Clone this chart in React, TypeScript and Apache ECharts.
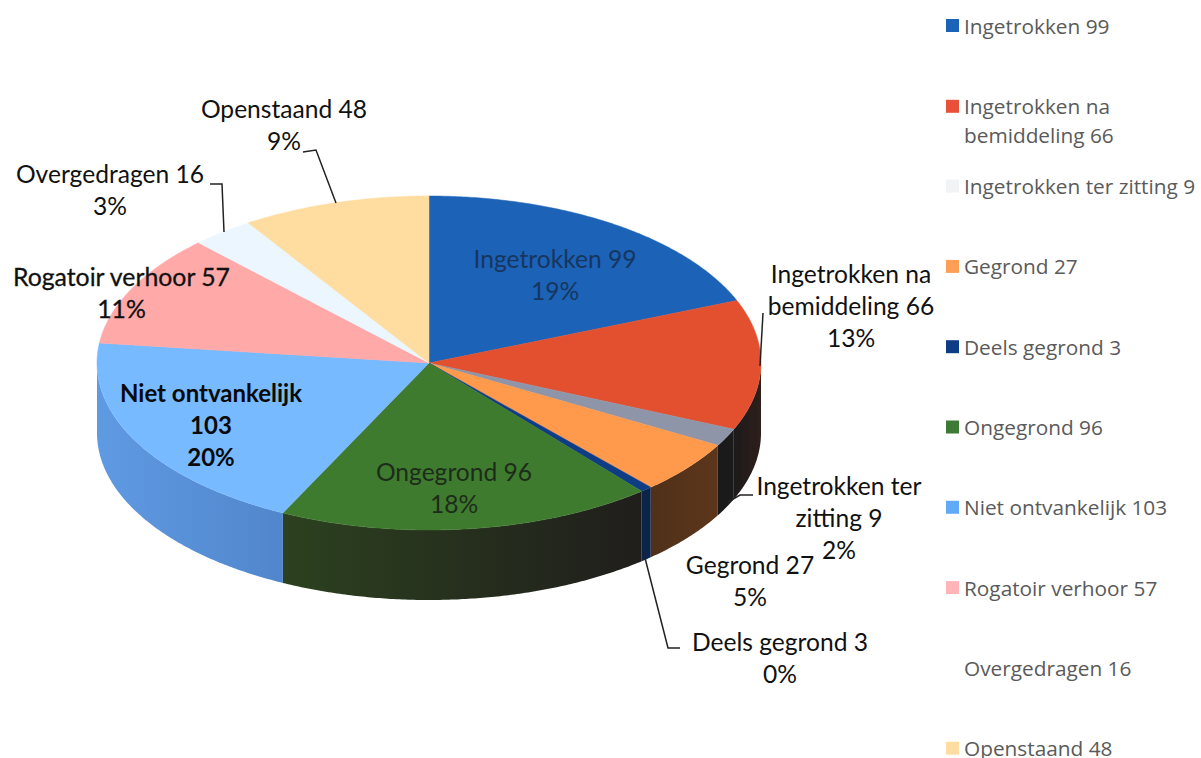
import React, { useEffect, useRef } from "react";
import * as echarts from "echarts";

// ---- data ----
const categories = [
  "Ingetrokken",
  "Ingetrokken na bemiddeling",
  "Ingetrokken ter zitting",
  "Gegrond",
  "Deels gegrond",
  "Ongegrond",
  "Niet ontvankelijk",
  "Rogatoir verhoor",
  "Overgedragen",
  "Openstaand",
];
const counts = [99, 66, 9, 27, 3, 96, 103, 57, 16, 48];
const percentLabels = ["19%", "13%", "2%", "5%", "0%", "18%", "20%", "11%", "3%", "9%"];

// ---- styling ----
const topColors = ["#1c62b6", "#e2502f", "#8e95a9", "#ff9a4c", "#0e3d86", "#3f7b2f", "#78baff", "#ffa9a8", "#ebf6ff", "#ffdc9f"];
const legendColors = ["#1c62b6", "#e8503a", "#f1f3f5", "#ff9f55", "#0e3d86", "#3c7a35", "#62aaf8", "#ffb4b8", "#ffffff", "#ffdc9f"];
const sideColors: [string, string][] = [
  ["#1c62b6", "#1c62b6"],
  ["#1c1a1a", "#2e1f1a"],
  ["#1a1a1a", "#1c1a1a"],
  ["#50301a", "#5c361b"],
  ["#0c2448", "#0c2448"],
  ["#2c411f", "#201e1c"],
  ["#5f9ae2", "#5186cc"],
  ["#ffa9a8", "#ffa9a8"],
  ["#ebf6ff", "#ebf6ff"],
  ["#ffdc9f", "#ffdc9f"],
];

// ---- layout ----
const W = 1201;
const H = 758;
const CX = 429;
const CY = 363;
const RX = 332;
const RY = 167;
const DEPTH = 70;
const LABEL_FONT = "Lato";
const LEGEND_FONT = "Open Sans";

const pt = (deg: number, dy = 0): [number, number] => {
  const a = (deg * Math.PI) / 180;
  return [CX + RX * Math.sin(a), CY - RY * Math.cos(a) + dy];
};
const arc = (from: number, to: number, dy = 0) => {
  const out: [number, number][] = [];
  const n = Math.max(2, Math.ceil(Math.abs(to - from) * 2));
  for (let i = 0; i <= n; i++) out.push(pt(from + ((to - from) * i) / n, dy));
  return out;
};

const total = counts.reduce((a, b) => a + b, 0);
const startOf = (i: number) => (counts.slice(0, i).reduce((a, b) => a + b, 0) / total) * 360;

const labelLines = [
  `Ingetrokken ${counts[0]}`,
  `Ingetrokken na\nbemiddeling ${counts[1]}`,
  `Ingetrokken ter\nzitting ${counts[2]}`,
  `Gegrond ${counts[3]}`,
  `Deels gegrond ${counts[4]}`,
  `Ongegrond ${counts[5]}`,
  `Niet ontvankelijk\n${counts[6]}`,
  `Rogatoir verhoor ${counts[7]}`,
  `Overgedragen ${counts[8]}`,
  `Openstaand ${counts[9]}`,
];
const labelLayout = [
  { x: 555, y: 258, fill: "#17365f", weight: 400, size: 24.6, stroke: 0 },
  { x: 851, y: 273, fill: "#111", weight: 400, size: 24.6, stroke: 0 },
  { x: 839, y: 485, fill: "#111", weight: 400, size: 24.6, stroke: 0 },
  { x: 750, y: 564, fill: "#111", weight: 400, size: 24.6, stroke: 0 },
  { x: 780, y: 641, fill: "#111", weight: 400, size: 24.6, stroke: 0 },
  { x: 454, y: 471, fill: "#1d2c1a", weight: 400, size: 24.6, stroke: 0 },
  { x: 211, y: 392, fill: "#0a0a0a", weight: 700, size: 24, stroke: 0 },
  { x: 121.5, y: 276, fill: "#111", weight: 400, size: 24.8, stroke: 0.3 },
  { x: 110, y: 173, fill: "#111", weight: 400, size: 24.6, stroke: 0 },
  { x: 284, y: 108, fill: "#111", weight: 400, size: 24.6, stroke: 0 },
];
const leaderLines: [number, number][][] = [
  [[763, 313], [760, 366]],
  [[753, 495], [740, 495], [728, 502]],
  [[645, 558], [668, 648], [680, 648]],
  [[210, 184], [222, 184], [224, 232]],
  [[303, 152], [316, 150], [336, 203]],
];

const legendRowY = (i: number) => 26 + i * 80.3;
const LEGEND_LINE = 29;
const LEGEND_SIZE = 20.8;
const LEGEND_SINGLE_LINE = 18;
const LEGEND_NUDGE = 2;

const renderSlice = (params: any, api: any) => {
  const i = params.seriesIndex;
  const from = startOf(i);
  const to = from + (api.value(0) / total) * 360;
  const children: any[] = [];
  const sFrom = Math.max(from, 90);
  const sTo = Math.min(to, 270);
  if (sTo > sFrom) {
    const upper = arc(sFrom, sTo);
    const lower = arc(sTo, sFrom, DEPTH);
    children.push({
      type: "polygon",
      z2: 1,
      shape: { points: [...upper, ...lower] },
      style: {
        fill: new echarts.graphic.LinearGradient(0, 0, 1, 0, [
          { offset: 0, color: sideColors[i][0] },
          { offset: 1, color: sideColors[i][1] },
        ]),
        stroke: "none",
      },
    });
  }
  children.push({
    type: "polygon",
    z2: 2,
    shape: { points: [[CX, CY], ...arc(from, to)] },
    style: { fill: topColors[i], stroke: topColors[i], lineWidth: 0.5 },
  });
  return { type: "group", children };
};

const legendName = (i: number) => `${categories[i]} ${counts[i]}`;

export default function App() {
  const ref = useRef<HTMLDivElement>(null);
  useEffect(() => {
    document.body.style.margin = "0";
    document.body.style.overflow = "hidden";
    const chart = echarts.init(ref.current!, undefined, { renderer: "svg" });
    chart.setOption({
      animation: false,
      backgroundColor: "#ffffff",
      legend: categories.map((_, i) => {
        const twoLines = i === 1;
        return {
          data: [legendName(i)],
          orient: "vertical",
          left: 946,
          top: legendRowY(i) - (twoLines ? 1.5 * LEGEND_LINE : LEGEND_SINGLE_LINE / 2 + LEGEND_NUDGE),
          padding: 0,
          icon: "rect",
          itemWidth: 13,
          itemHeight: 13,
          itemStyle: { color: legendColors[i] },
          selectedMode: false,
          textStyle: {
            color: "#5a5a5a",
            fontFamily: LEGEND_FONT,
            fontSize: LEGEND_SIZE,
            lineHeight: twoLines ? LEGEND_LINE : LEGEND_SINGLE_LINE,
          },
          formatter: twoLines
            ? () => `\n${categories[i].replace(" bemiddeling", "\nbemiddeling")} ${counts[i]}`
            : undefined,
        };
      }),
      series: categories.map((_, i) => ({
        type: "custom",
        name: legendName(i),
        coordinateSystem: "none",
        itemStyle: { color: topColors[i] },
        data: [[counts[i]]],
        renderItem: renderSlice,
        silent: true,
      })),
      graphic: [
        ...leaderLines.map((points) => ({
          type: "polyline",
          z: 5,
          silent: true,
          shape: { points },
          style: { stroke: "#222", lineWidth: 1.5, fill: "none" },
        })),
        ...labelLayout.map((l, i) => ({
          type: "text",
          z: 6,
          silent: true,
          style: {
            text: `${labelLines[i]}\n${percentLabels[i]}`,
            x: l.x,
            y: l.y - 16,
            align: "center",
            verticalAlign: "top",
            lineHeight: 32,
            fontFamily: LABEL_FONT,
            fontSize: l.size,
            fontWeight: l.weight,
            fill: l.fill,
            stroke: l.stroke ? l.fill : "none",
            lineWidth: l.stroke,
          },
        })),
      ],
    });
    return () => chart.dispose();
  }, []);
  return <div ref={ref} style={{ width: W, height: H }} />;
}
